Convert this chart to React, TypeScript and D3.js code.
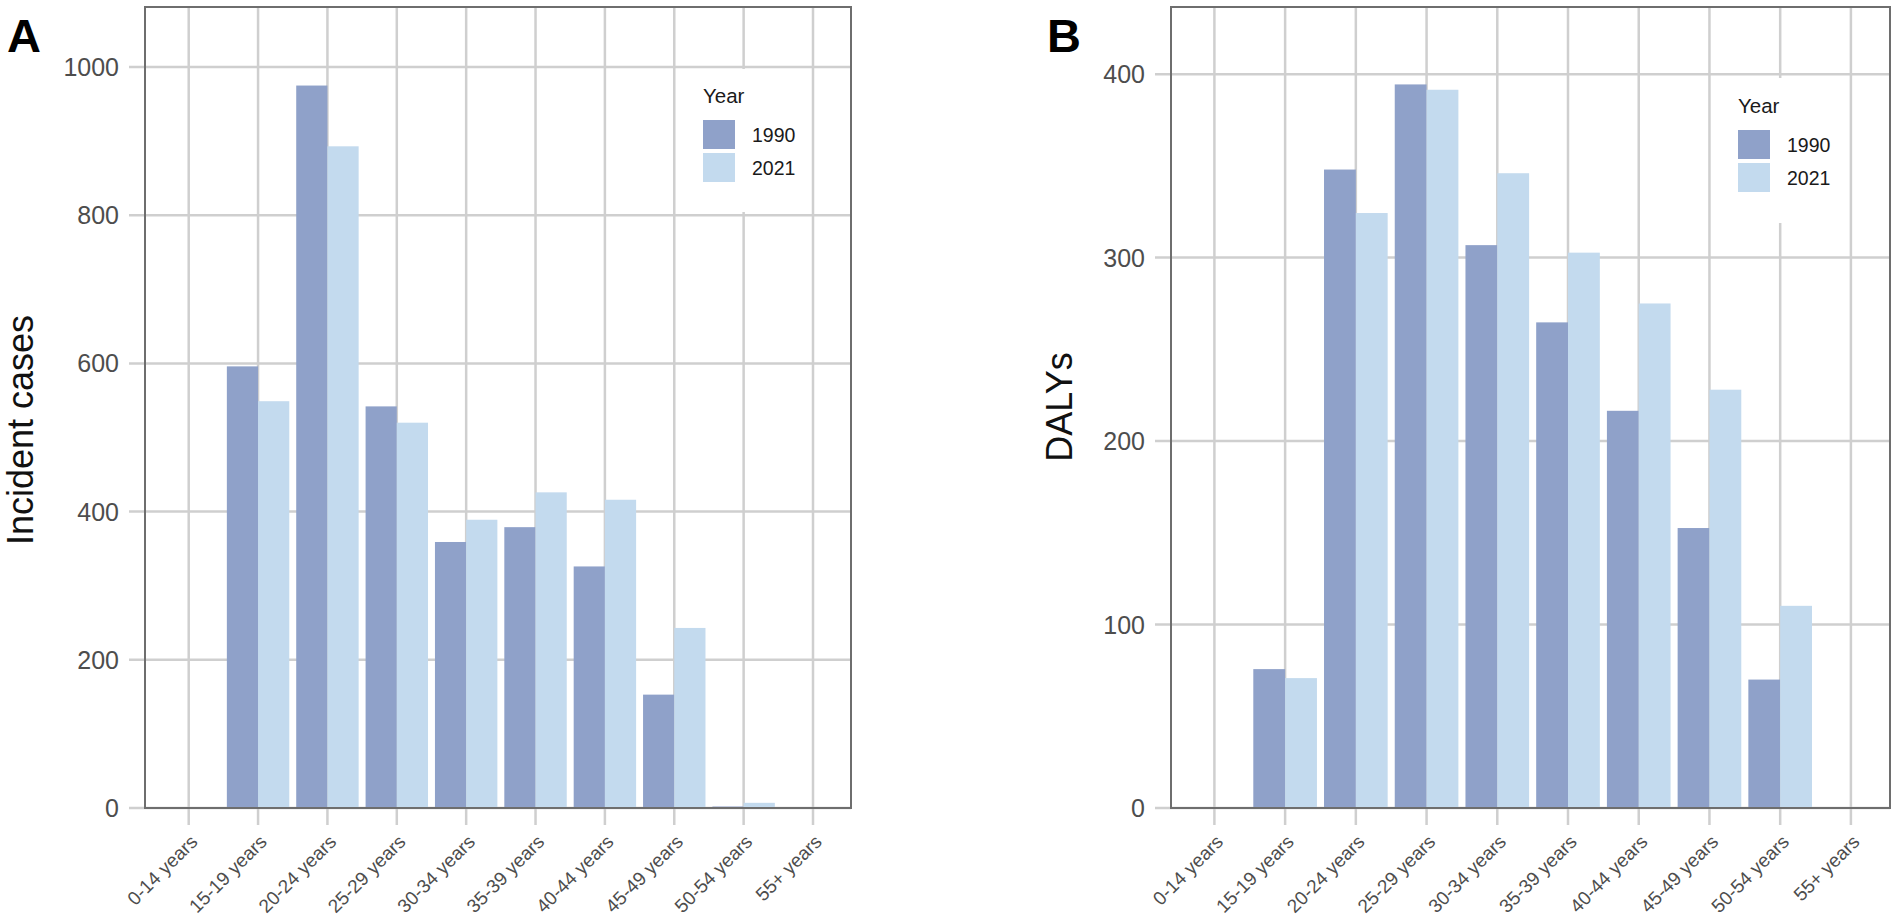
import React from "react";
import * as d3 from "d3";

const ageGroups = [
  "0-14 years", "15-19 years", "20-24 years", "25-29 years", "30-34 years",
  "35-39 years", "40-44 years", "45-49 years", "50-54 years", "55+ years",
];
const years = ["1990", "2021"];
const incident1990 = [0, 596, 975, 542, 359, 379, 326, 153, 2, 0];
const incident2021 = [0, 549, 893, 520, 389, 426, 416, 243, 7, 0];
const daly1990 = [0, 75.7, 348, 394.4, 306.8, 264.7, 216.5, 152.6, 70, 0];
const daly2021 = [0, 70.8, 324.3, 391.5, 346, 302.7, 275, 228, 110.2, 0];
const incidentTicks = [0, 200, 400, 600, 800, 1000];
const dalyTicks = [0, 100, 200, 300, 400];

const COLORS = ["#8FA1C9", "#C3DAEE"];
const FONT = "'Liberation Sans', Arial, Helvetica, sans-serif";
const GRID = "#cfcfcf";
const BORDER = "#6e6e6e";
const TICKTXT = "#4d4d4d";

type PanelProps = {
  letter: string;
  letterX: number;
  left: number;
  right: number;
  top: number;
  bottom: number;
  firstCenter: number;
  lastCenter: number;
  yMax: number;
  ticks: number[];
  v1990: number[];
  v2021: number[];
  title: string;
  titleX: number;
  titleY: number;
  legendX: number;
  legendTitleY: number;
  keyY: number;
  legendBox: [number, number, number, number];
};

function Panel(p: PanelProps) {
  const x = d3.scalePoint<string>().domain(ageGroups).range([p.firstCenter, p.lastCenter]);
  const step = x.step();
  const y = d3.scaleLinear().domain([0, p.yMax]).range([p.bottom, p.top]);
  const dodge = 0.9 * step;
  const barW = dodge / 2;
  const series = [p.v1990, p.v2021];
  return (
    <g>
      <text x={p.letterX} y={52} fontFamily={FONT} fontWeight="bold" fontSize={47} fill="#000">
        {p.letter}
      </text>
      {/* gridlines */}
      {p.ticks.map((t) => (
        <line key={"h" + t} x1={p.left - 16} x2={p.right} y1={y(t)} y2={y(t)} stroke={GRID} strokeWidth={2.5} />
      ))}
      {ageGroups.map((g) => (
        <line key={"v" + g} x1={x(g)} x2={x(g)} y1={p.top} y2={p.bottom + 17} stroke={GRID} strokeWidth={2.5} />
      ))}
      {/* bars */}
      {series.map((vals, si) =>
        vals.map((v, i) => {
          const cx = x(ageGroups[i]) as number;
          const x0 = cx - dodge / 2 + si * barW;
          return v > 0 ? (
            <rect key={si + "-" + i} x={x0} width={barW} y={y(v)} height={p.bottom - y(v)} fill={COLORS[si]} />
          ) : null;
        })
      )}
      {/* legend */}
      <rect x={p.legendBox[0]} y={p.legendBox[1]} width={p.legendBox[2]} height={p.legendBox[3]} fill="#fff" />
      <text x={p.legendX} y={p.legendTitleY} fontFamily={FONT} fontSize={20.5} fill="#1a1a1a">Year</text>
      {years.map((yr, i) => (
        <g key={yr}>
          <rect x={p.legendX} y={p.keyY + i * 33} width={32} height={29} fill={COLORS[i]} />
          <text x={p.legendX + 49} y={p.keyY + i * 33 + 14.5} dominantBaseline="central" fontFamily={FONT} fontSize={19.5} fill="#1a1a1a">
            {yr}
          </text>
        </g>
      ))}
      {/* panel border */}
      <rect x={p.left} y={p.top} width={p.right - p.left} height={p.bottom - p.top} fill="none" stroke={BORDER} strokeWidth={2} />
      {/* y tick labels */}
      {p.ticks.map((t) => (
        <text key={"yl" + t} x={p.left - 26} y={y(t)} textAnchor="end" dominantBaseline="central" fontFamily={FONT} fontSize={25} fill={TICKTXT}>
          {t}
        </text>
      ))}
      {/* x tick labels */}
      {ageGroups.map((g) => (
        <text
          key={"xl" + g}
          transform={`translate(${x(g)},${p.bottom + 25}) rotate(-45)`}
          textAnchor="end"
          dy="0.74em"
          fontFamily={FONT}
          fontSize={19}
          fill={TICKTXT}
        >
          {g}
        </text>
      ))}
      {/* y title */}
      <text transform={`translate(${p.titleX},${p.titleY}) rotate(-90)`} textAnchor="middle" fontFamily={FONT} fontSize={36} fill="#111">
        {p.title}
      </text>
    </g>
  );
}

export default function App() {
  return (
    <svg width={1902} height={920} style={{ position: "absolute", left: 0, top: 0, background: "#fff" }}>
      <rect x={0} y={0} width={1902} height={920} fill="#fff" />
      <Panel
        letter="A"
        letterX={7}
        left={145}
        right={851}
        top={7}
        bottom={808}
        firstCenter={188.7}
        lastCenter={813}
        yMax={1081}
        ticks={incidentTicks}
        v1990={incident1990}
        v2021={incident2021}
        title="Incident cases"
        titleX={33}
        titleY={430}
        legendX={703}
        legendTitleY={103}
        keyY={120}
        legendBox={[689, 69, 118, 143]}
      />
      <Panel
        letter="B"
        letterX={1047}
        left={1171}
        right={1890}
        top={7}
        bottom={808}
        firstCenter={1214.4}
        lastCenter={1850.9}
        yMax={436.6}
        ticks={dalyTicks}
        v1990={daly1990}
        v2021={daly2021}
        title="DALYs"
        titleX={1072}
        titleY={407}
        legendX={1738}
        legendTitleY={113}
        keyY={130}
        legendBox={[1724, 78, 118, 145]}
      />
    </svg>
  );
}
